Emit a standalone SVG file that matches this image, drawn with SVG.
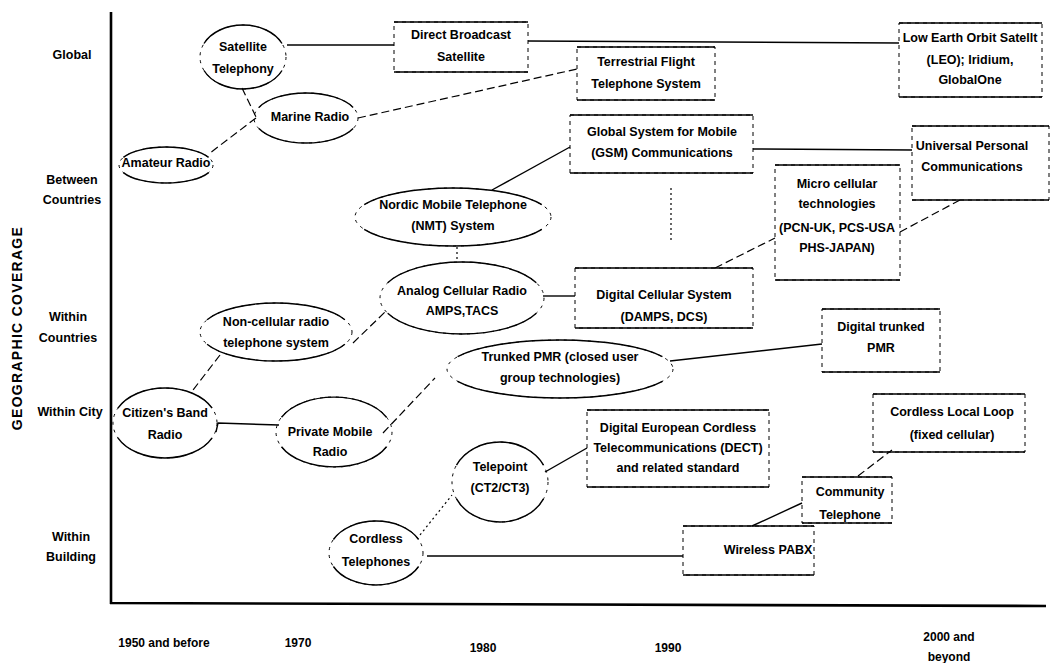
<svg xmlns="http://www.w3.org/2000/svg" width="1052" height="663" viewBox="0 0 1052 663">
<style>
text{font-family:"Liberation Sans",Arial,sans-serif;font-weight:bold;font-size:12.5px;fill:#000;text-anchor:middle;dominant-baseline:central}
.ax{stroke:#000;stroke-width:2.6;fill:none}
.bs{stroke:#000;stroke-width:1.4;fill:none}
.bd{stroke:#000;stroke-width:1;fill:none;stroke-dasharray:4 4}
.es{fill:none;stroke:#000;stroke-width:1.4}
.ed{fill:none;stroke:#000;stroke-width:1;stroke-dasharray:3 5}
.cs{stroke:#000;stroke-width:1.4;fill:none}
.cd{stroke:#000;stroke-width:1.2;fill:none;stroke-dasharray:8 4}
.co{stroke:#000;stroke-width:1.2;fill:none;stroke-dasharray:2 3}
.title{font-size:14px;letter-spacing:1.3px}
.lab{font-size:12px}
</style>
<rect width="1052" height="663" fill="#fff"/>
<g id="axes">
<path class="ax" d="M111 12 V604 M110 603 L1046 606"/>
<text class="title" transform="translate(17 328) rotate(-90)">GEOGRAPHIC COVERAGE</text>
<text x="72" y="55">Global</text>
<text x="72" y="180">Between</text>
<text x="72" y="200">Countries</text>
<text x="68" y="317">Within</text>
<text x="68" y="338">Countries</text>
<text x="70" y="412">Within City</text>
<text x="71" y="537">Within</text>
<text x="71" y="557">Building</text>
<text class="lab" x="164" y="643">1950 and before</text>
<text class="lab" x="298" y="643">1970</text>
<text class="lab" x="483" y="648">1980</text>
<text class="lab" x="668" y="648">1990</text>
<text class="lab" x="949" y="637">2000 and</text>
<text class="lab" x="949" y="657">beyond</text>
</g>
<g id="connectors">
<path class="cs" d="M287 45 H394"/>
<path class="cs" d="M528 41 L899 43"/>
<path class="cd" d="M242 88 L256 117"/>
<path class="cd" d="M256 118 L210 153"/>
<path class="cd" d="M358 118 L577 69"/>
<path class="cs" d="M492 190 L570 147"/>
<path class="cs" d="M753 149 L912 150"/>
<path class="co" d="M671 188 V243"/>
<path class="co" d="M457 247 V262"/>
<path class="cs" d="M543 296 H575"/>
<path class="cd" d="M715 268 L775 238"/>
<path class="cd" d="M900 232 L960 200"/>
<path class="cd" d="M353 343 L385 312"/>
<path class="cd" d="M220 355 L193 390"/>
<path class="cs" d="M216 432 L218 423 L279 425"/>
<path class="cd" d="M383 433 L435 378"/>
<path class="cs" d="M670 361 L822 344"/>
<path class="cs" d="M545 472 L587 448"/>
<path class="co" d="M420 535 L452 495"/>
<path class="cs" d="M427 556 H683"/>
<path class="cs" d="M802 503 L752 526"/>
<path class="cd" d="M858 476 L892 450"/>
</g>
<g id="satellite-telephony">
<ellipse class="ed" cx="243" cy="57" rx="43" ry="32"/>
<path class="es" d="M204 43.5 A43 32 0 0 1 282 43.5 M282 70.5 A43 32 0 0 1 204 70.5"/>
<text x="243" y="47">Satellite</text>
<text x="243" y="69">Telephony</text>
</g>
<g id="direct-broadcast">
<rect class="bd" x="394" y="22" width="134" height="50"/>
<path class="bs" d="M394 22 H528 M394 72 H528"/>
<text x="461" y="35">Direct Broadcast</text>
<text x="461" y="57">Satellite</text>
</g>
<g id="leo">
<rect class="bd" x="899" y="23" width="143" height="74"/>
<path class="bs" d="M899 23 H1042 M899 97 H1042"/>
<text x="970" y="38">Low Earth Orbit Satellt</text>
<text x="970" y="60">(LEO); Iridium,</text>
<text x="970" y="80">GlobalOne</text>
</g>
<g id="terrestrial-flight">
<rect class="bd" x="577" y="47" width="138" height="53"/>
<path class="bs" d="M577 47 H715 M577 100 H715"/>
<text x="646" y="62">Terrestrial Flight</text>
<text x="646" y="84">Telephone System</text>
</g>
<g id="marine-radio">
<ellipse class="ed" cx="306" cy="118" rx="52" ry="25"/>
<path class="es" d="M258.9 107.4 A52 25 0 0 1 353.1 107.4 M353.1 128.6 A52 25 0 0 1 258.9 128.6"/>
<text x="310" y="117">Marine Radio</text>
</g>
<g id="amateur-radio">
<ellipse class="ed" cx="166" cy="165" rx="47" ry="18"/>
<path class="es" d="M123.4 157.4 A47 18 0 0 1 208.6 157.4 M208.6 172.6 A47 18 0 0 1 123.4 172.6"/>
<text x="166" y="163">Amateur Radio</text>
</g>
<g id="gsm">
<rect class="bd" x="570" y="115" width="183" height="58"/>
<path class="bs" d="M570 115 H753 M570 173 H753"/>
<text x="662" y="132">Global System for Mobile</text>
<text x="662" y="153">(GSM) Communications</text>
</g>
<g id="universal-personal">
<rect class="bd" x="912" y="126" width="137" height="74"/>
<path class="bs" d="M912 126 H1049 M912 200 H1049"/>
<text x="972" y="146">Universal Personal</text>
<text x="972" y="167">Communications</text>
</g>
<g id="micro-cellular">
<rect class="bd" x="775" y="165" width="125" height="115"/>
<path class="bs" d="M775 165 H900 M775 280 H900"/>
<text x="837" y="184">Micro cellular</text>
<text x="837" y="204">technologies</text>
<text x="837" y="228">(PCN-UK, PCS-USA</text>
<text x="837" y="248">PHS-JAPAN)</text>
</g>
<g id="nmt">
<ellipse class="ed" cx="453" cy="217" rx="98" ry="29"/>
<path class="es" d="M364.2 204.7 A98 29 0 0 1 541.8 204.7 M541.8 229.3 A98 29 0 0 1 364.2 229.3"/>
<text x="453" y="205">Nordic Mobile Telephone</text>
<text x="453" y="226">(NMT) System</text>
</g>
<g id="analog-cellular">
<ellipse class="ed" cx="462" cy="298" rx="82" ry="36"/>
<path class="es" d="M387.7 282.8 A82 36 0 0 1 536.3 282.8 M536.3 313.2 A82 36 0 0 1 387.7 313.2"/>
<text x="462" y="291">Analog Cellular Radio</text>
<text x="462" y="311">AMPS,TACS</text>
</g>
<g id="digital-cellular">
<rect class="bd" x="575" y="268" width="178" height="60"/>
<path class="bs" d="M575 268 H753 M575 328 H753"/>
<text x="664" y="295">Digital Cellular System</text>
<text x="664" y="317">(DAMPS, DCS)</text>
</g>
<g id="non-cellular">
<ellipse class="ed" cx="276" cy="332" rx="76" ry="29"/>
<path class="es" d="M207.1 319.7 A76 29 0 0 1 344.9 319.7 M344.9 344.3 A76 29 0 0 1 207.1 344.3"/>
<text x="276" y="322">Non-cellular radio</text>
<text x="276" y="343">telephone system</text>
</g>
<g id="trunked-pmr">
<ellipse class="ed" cx="560" cy="369" rx="113" ry="29"/>
<path class="es" d="M457.6 356.7 A113 29 0 0 1 662.4 356.7 M662.4 381.3 A113 29 0 0 1 457.6 381.3"/>
<text x="560" y="357">Trunked PMR (closed user</text>
<text x="560" y="378">group technologies)</text>
</g>
<g id="digital-trunked">
<rect class="bd" x="822" y="309" width="118" height="63"/>
<path class="bs" d="M822 309 H940 M822 372 H940"/>
<text x="881" y="327">Digital trunked</text>
<text x="881" y="348">PMR</text>
</g>
<g id="citizens-band">
<ellipse class="ed" cx="165" cy="423" rx="52" ry="35"/>
<path class="es" d="M117.9 408.2 A52 35 0 0 1 212.1 408.2 M212.1 437.8 A52 35 0 0 1 117.9 437.8"/>
<text x="165" y="413">Citizen's Band</text>
<text x="165" y="435">Radio</text>
</g>
<g id="private-mobile">
<ellipse class="ed" cx="334" cy="432" rx="58" ry="35"/>
<path class="es" d="M281.5 417.2 A58 35 0 0 1 386.5 417.2 M386.5 446.8 A58 35 0 0 1 281.5 446.8"/>
<text x="330" y="432">Private Mobile</text>
<text x="330" y="452">Radio</text>
</g>
<g id="dect">
<rect class="bd" x="587" y="410" width="182" height="77"/>
<path class="bs" d="M587 410 H769 M587 487 H769"/>
<text x="678" y="428">Digital European Cordless</text>
<text x="678" y="448">Telecommunications (DECT)</text>
<text x="678" y="468">and related standard</text>
</g>
<g id="cordless-local-loop">
<rect class="bd" x="873" y="394" width="152" height="58"/>
<path class="bs" d="M873 394 H1025 M873 452 H1025"/>
<text x="952" y="412">Cordless Local Loop</text>
<text x="952" y="435">(fixed cellular)</text>
</g>
<g id="telepoint">
<ellipse class="ed" cx="500" cy="482" rx="48" ry="40"/>
<path class="es" d="M456.5 465.1 A48 40 0 0 1 543.5 465.1 M543.5 498.9 A48 40 0 0 1 456.5 498.9"/>
<text x="500" y="467">Telepoint</text>
<text x="500" y="488">(CT2/CT3)</text>
</g>
<g id="community-telephone">
<rect class="bd" x="802" y="477" width="90" height="46"/>
<path class="bs" d="M802 477 H892 M802 523 H892"/>
<text x="850" y="492">Community</text>
<text x="850" y="515">Telephone</text>
</g>
<g id="cordless-telephones">
<ellipse class="ed" cx="376" cy="553" rx="47" ry="32"/>
<path class="es" d="M333.4 539.5 A47 32 0 0 1 418.6 539.5 M418.6 566.5 A47 32 0 0 1 333.4 566.5"/>
<text x="376" y="539">Cordless</text>
<text x="376" y="562">Telephones</text>
</g>
<g id="wireless-pabx">
<rect class="bd" x="683" y="526" width="131" height="49"/>
<path class="bs" d="M683 526 H814 M683 575 H814"/>
<text x="768" y="550">Wireless PABX</text>
</g>
</svg>
